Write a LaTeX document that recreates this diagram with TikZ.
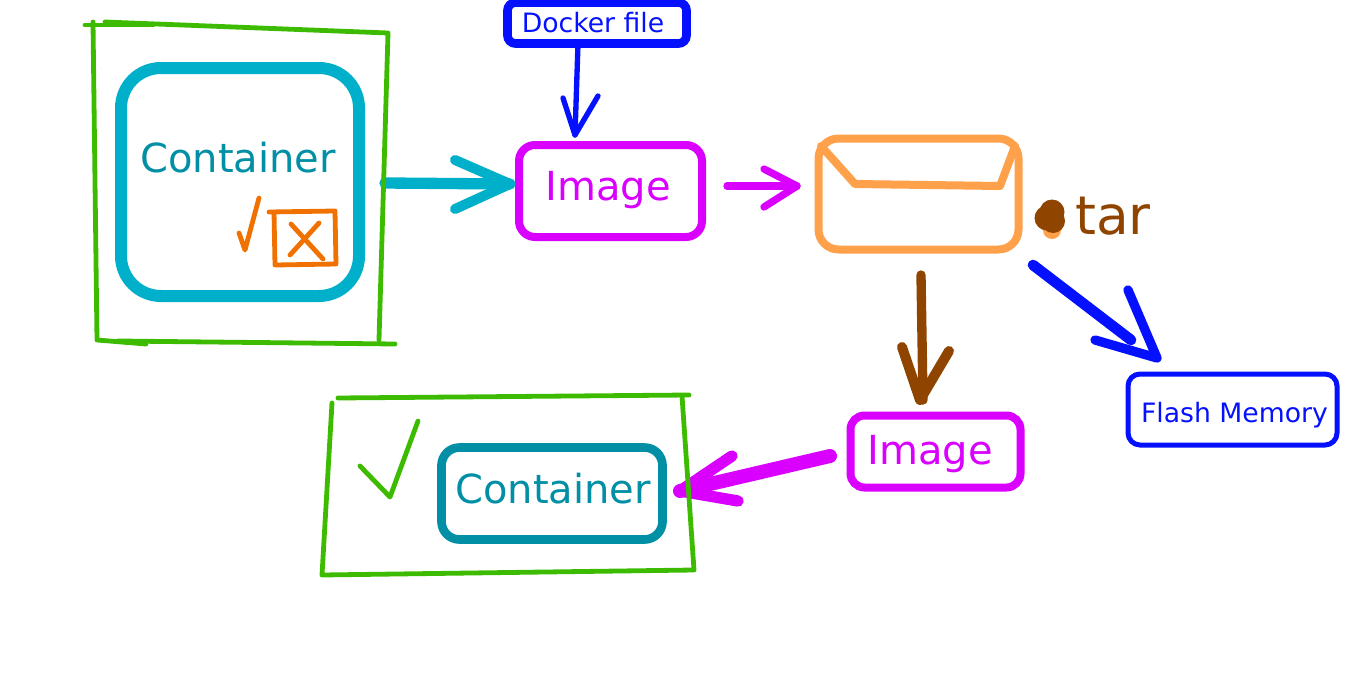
\documentclass[tikz,border=0pt]{standalone}
\usepackage{fontspec}
\setmainfont{DejaVu Sans}
\definecolor{ccyan}{HTML}{00AFC9}
\definecolor{cteal}{HTML}{008FA5}
\definecolor{cmag}{HTML}{D900FF}
\definecolor{cpeach}{HTML}{FFA04A}
\definecolor{corange}{HTML}{F07000}
\definecolor{cgreen}{HTML}{3DBB00}
\definecolor{cblue}{HTML}{0510FF}
\definecolor{cbrown}{HTML}{8F4500}
\tikzset{
  box/.style={draw,rounded corners=#1,inner sep=0pt,outer sep=0pt},
  sketch/.style={line cap=round,line join=round},
  big/.style={font=\fontsize{30pt}{30pt}\selectfont,inner sep=0pt},
  small/.style={font=\fontsize{20pt}{20pt}\selectfont,inner sep=0pt,text=cblue},
}
\begin{document}
\begin{tikzpicture}[x=0.75pt,y=-0.75pt]
\useasboundingbox (0,0) rectangle (1372,682);
% boxes
\node[box=30pt,color=ccyan,line width=9pt,minimum width=178.5pt,minimum height=171pt] (c1) at (240,182) {};
\node[box=12pt,color=cmag,line width=6pt,minimum width=137.25pt,minimum height=69pt] (i1) at (610.5,191) {};
\node[box=6pt,color=cblue,line width=6.5pt,minimum width=134.25pt,minimum height=30.75pt] (df) at (597,23) {};
\node[box=15pt,color=cpeach,line width=6pt,minimum width=150pt,minimum height=83.25pt] (tarbox) at (918.5,194) {};
\node[box=10.5pt,color=cmag,line width=6pt,minimum width=127.5pt,minimum height=54pt] (i2) at (935.5,451.5) {};
\node[box=9pt,color=cblue,line width=3.75pt,minimum width=156.75pt,minimum height=53.25pt] (fm) at (1232.5,409.5) {};
\node[box=13.5pt,color=cteal,line width=6.5pt,minimum width=165.75pt,minimum height=69pt] (c2) at (552,493.5) {};
% labels
\node[big,text=cteal] (c1t) at (238,158) {Container};
\node[big,text=cmag] (i1t) at (608,190) {Image};
\node[small] (dft) at (593,23) {Docker file};
\node[big,text=cmag] (i2t) at (930,454) {Image};
\node[small] (fmt) at (1234.5,415) {Flash Memory};
\node[big,text=cteal] (c2t) at (553,489) {Container};
\node[font=\fontsize{40pt}{40pt}\selectfont,inner sep=0pt,text=cbrown] (tart) at (1113,216) {tar};
% envelope flap
\draw[sketch,cpeach,line width=6pt] (821,146) -- (855,184) -- (1000,186) -- (1015,146);
% tar bullet
\fill[cpeach] (1052,230) circle[radius=9];
\fill[cbrown] (1047,218) circle[radius=12.5] (1053,221) circle[radius=12] (1052,212) circle[radius=12.5];
% connectors
\coordinate (a1s) at (385,183); \coordinate (a1e) at (510,184);
\draw[sketch,ccyan,line width=8.5pt] (a1s) -- (a1e);
\draw[sketch,ccyan,line width=7.5pt] (455,160) -- (a1e) -- (455,209);
\coordinate (a2e) at (575,135);
\draw[sketch,cblue,line width=4pt] (df.south -| 578,0) -- (a2e);
\draw[sketch,cblue,line width=4pt] (563,98) -- (a2e) -- (598,96);
\coordinate (a3s) at (727,186); \coordinate (a3e) at (797,186);
\draw[sketch,cmag,line width=5.5pt] (a3s) -- (a3e);
\draw[sketch,cmag,line width=5.5pt] (764,169) -- (a3e) -- (764,207);
\coordinate (a4s) at (921,275); \coordinate (a4e) at (920,400);
\draw[sketch,cbrown,line width=7pt] (a4s) -- (923,400);
\draw[sketch,cbrown,line width=7.5pt] (902,347) -- (a4e) -- (949,351);
\coordinate (a5s) at (1033,265); \coordinate (a5e) at (1157,358);
\draw[sketch,cblue,line width=8pt] (a5s) -- (1131,340);
\draw[sketch,cblue,line width=7pt] (1128,290) -- (a5e) -- (1095,340);
\coordinate (a6s) at (830,456); \coordinate (a6e) at (680,491);
\draw[sketch,cmag,line width=10.5pt] (a6s) -- (a6e);
\draw[sketch,cmag,line width=8.5pt] (732,456) -- (a6e) -- (738,501);
% green frames
\draw[sketch,cgreen,line width=3.6pt] (105,22) -- (388,33) -- (379,340);
\draw[sketch,cgreen,line width=3.6pt] (395,344) -- (118,341);
\draw[sketch,cgreen,line width=3.6pt] (146,344) -- (97,340) -- (93,22);
\draw[sketch,cgreen,line width=3.6pt] (85,25) -- (153,25);
\draw[sketch,cgreen,line width=3.6pt] (338,398) -- (689,395);
\draw[sketch,cgreen,line width=3.6pt] (682,396) -- (694,570) -- (322,575) -- (332,403);
\draw[sketch,cgreen,line width=3.6pt] (360,466) -- (390,497) -- (418,421);
% orange marks
\draw[sketch,corange,line width=3.6pt] (239,233) -- (245,250) -- (259,198);
\draw[sketch,corange,line width=3.6pt] (269,212) -- (335,211) -- (336,264) -- (275,265) -- (274,212);
\draw[sketch,corange,line width=3.6pt] (291,224) -- (323,259);
\draw[sketch,corange,line width=3.6pt] (319,223) -- (290,255);
\end{tikzpicture}
\end{document}
